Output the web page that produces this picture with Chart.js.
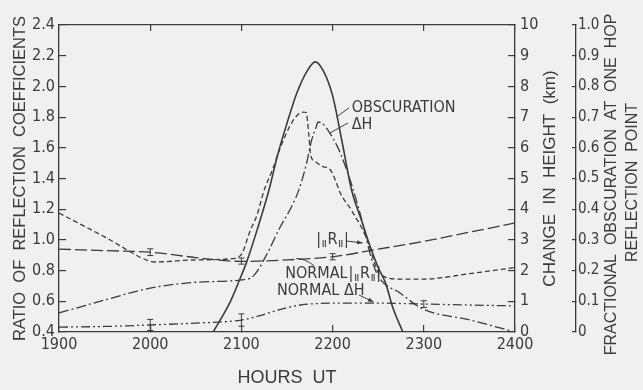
<!DOCTYPE html>
<html>
<head>
<meta charset="utf-8">
<script src="https://cdn.jsdelivr.net/npm/chart.js@4.4.1/dist/chart.umd.min.js"></script>
<style>
  html, body { margin: 0; padding: 0; background: #f0f0f0; }
  #wrap { width: 643px; height: 390px; position: relative; }
</style>
</head>
<body>
<div id="wrap"><canvas id="myChart"></canvas></div>
<script>
// time in hours UT (19 = 1900 ... 24 = 2400)
const obscTime = [20.69, 20.77, 20.88, 20.98, 21.06, 21.18, 21.30, 21.40, 21.50, 21.61, 21.72, 21.81, 21.90, 22.00, 22.11, 22.21, 22.31, 22.41, 22.50, 22.58, 22.66, 22.77];
const obscFrac = [0, 0.04, 0.10, 0.17, 0.23, 0.34, 0.46, 0.58, 0.68, 0.78, 0.85, 0.88, 0.85, 0.77, 0.61, 0.46, 0.37, 0.28, 0.21, 0.16, 0.08, 0];

// |R| ratio on eclipse day
const rTime = [19.0, 19.5, 20.0, 20.05, 20.5, 20.93, 21.01, 21.09, 21.17, 21.25, 21.34, 21.42, 21.53, 21.61, 21.68, 21.71, 21.74, 21.76, 21.81, 21.88, 21.97, 22.03, 22.08, 22.21, 22.38, 22.46, 22.51, 22.74, 23.0, 23.5, 24.0];
const rVal = [1.175, 1.02, 0.86, 0.856, 0.87, 0.88, 0.915, 1.05, 1.16, 1.325, 1.455, 1.59, 1.74, 1.81, 1.833, 1.83, 1.68, 1.55, 1.51, 1.48, 1.46, 1.39, 1.31, 1.19, 1.0, 0.85, 0.78, 0.745, 0.745, 0.78, 0.82];

// normal |R| ratio
const nrTime = [19, 19.5, 20, 20.5, 21, 21.5, 22, 22.5, 23, 23.5, 24];
const nrVal = [0.94, 0.93, 0.92, 0.885, 0.86, 0.87, 0.89, 0.94, 0.99, 1.05, 1.11];

// change in height, km
const dhTime = [19.0, 19.5, 20.0, 20.5, 21.0, 21.13, 21.27, 21.42, 21.56, 21.63, 21.71, 21.77, 21.82, 21.84, 21.88, 21.97, 22.08, 22.21, 22.32, 22.43, 22.50, 22.74, 22.99, 23.51, 24.0];
const dhKm = [0.62, 1.04, 1.43, 1.62, 1.70, 1.82, 2.48, 3.39, 4.14, 4.63, 5.44, 6.25, 6.68, 6.84, 6.81, 6.48, 5.86, 4.79, 3.65, 2.35, 1.82, 1.27, 0.75, 0.39, 0];

// normal change in height, km
const ndhTime = [19.0, 19.5, 20.0, 20.5, 21.0, 21.2, 21.43, 21.65, 21.87, 22.0, 22.5, 23.0, 23.5, 24.0];
const ndhKm = [0.16, 0.18, 0.23, 0.29, 0.39, 0.53, 0.74, 0.88, 0.93, 0.94, 0.94, 0.91, 0.88, 0.85];

// error bars: time, axis, low, high
const errTime = [20, 21, 22, 20, 21, 23];
const errAxis = ['y', 'y', 'y', 'y2', 'y2', 'y2'];
const errLow = [0.898, 0.842, 0.87, 0.05, 0.19, 0.80];
const errHigh = [0.942, 0.882, 0.91, 0.41, 0.59, 1.02];

// tick values
const hourTicks = [19, 20, 21, 22, 23, 24];
const ratioTicks = [0.4, 0.6, 0.8, 1.0, 1.2, 1.4, 1.6, 1.8, 2.0, 2.2, 2.4];
const kmTicks = [0, 1, 2, 3, 4, 5, 6, 7, 8, 9, 10];
const fracTicks = [0, 0.1, 0.2, 0.3, 0.4, 0.5, 0.6, 0.7, 0.8, 0.9, 1.0];

const ink = '#3b3b3b';
const NARROW = "'Liberation Sans Narrow', 'DejaVu Sans Condensed', sans-serif";
const SANS = "'Liberation Sans', Arial, sans-serif";

const pts = (ts, vs) => ts.map((t, i) => ({x: t, y: vs[i]}));
const setTicks = arr => s => { s.ticks = arr.map(v => ({value: v})); };

function drawRmag(ctx, x, y) {
  // |∥R∥| with small parallel marks
  ctx.font = '16px ' + NARROW;
  ctx.fillText('|', x, y); x += ctx.measureText('|').width + 1;
  ctx.font = 'bold 8px ' + SANS;
  ctx.fillText('||', x, y + 3); x += ctx.measureText('||').width + 1;
  ctx.font = '16px ' + NARROW;
  ctx.fillText('R', x, y); x += ctx.measureText('R').width + 1;
  ctx.font = 'bold 8px ' + SANS;
  ctx.fillText('||', x, y + 3); x += ctx.measureText('||').width + 1;
  ctx.font = '16px ' + NARROW;
  ctx.fillText('|', x, y);
}

function arrow(ctx, x1, y1, x2, y2) {
  ctx.beginPath(); ctx.moveTo(x1, y1); ctx.lineTo(x2, y2); ctx.stroke();
  const a = Math.atan2(y2 - y1, x2 - x1);
  ctx.beginPath();
  ctx.moveTo(x2, y2);
  ctx.lineTo(x2 - 6 * Math.cos(a - 0.35), y2 - 6 * Math.sin(a - 0.35));
  ctx.lineTo(x2 - 6 * Math.cos(a + 0.35), y2 - 6 * Math.sin(a + 0.35));
  ctx.closePath(); ctx.fill();
}

const notesPlugin = {
  id: 'notes',
  afterDatasetsDraw(chart) {
    const ctx = chart.ctx;
    const sx = chart.scales.x, sy = chart.scales.y;
    const P = (t, r) => [sx.getPixelForValue(t), sy.getPixelForValue(r)];
    ctx.save();
    ctx.strokeStyle = ink; ctx.fillStyle = ink; ctx.lineWidth = 1;

    // error bars
    errTime.forEach((t, i) => {
      const s = chart.scales[errAxis[i]];
      const x = sx.getPixelForValue(t);
      const y1 = s.getPixelForValue(errLow[i]), y2 = s.getPixelForValue(errHigh[i]);
      ctx.beginPath();
      ctx.moveTo(x, y1); ctx.lineTo(x, y2);
      ctx.moveTo(x - 3, y1); ctx.lineTo(x + 3, y1);
      ctx.moveTo(x - 3, y2); ctx.lineTo(x + 3, y2);
      ctx.stroke();
    });

    // leader lines
    let a = P(22.18, 1.86), b = P(22.04, 1.80);
    ctx.beginPath(); ctx.moveTo(a[0], a[1]); ctx.lineTo(b[0], b[1]); ctx.stroke();
    a = P(22.17, 1.762); b = P(21.97, 1.696);
    ctx.beginPath(); ctx.moveTo(a[0], a[1]); ctx.lineTo(b[0], b[1]); ctx.stroke();
    a = P(21.80, 0.83); const c = P(21.70, 0.879); b = P(21.60, 0.879);
    ctx.beginPath(); ctx.moveTo(a[0], a[1]); ctx.quadraticCurveTo(c[0], c[1], b[0], b[1]); ctx.stroke();
    a = P(22.15, 0.993); b = P(22.33, 0.98);
    arrow(ctx, a[0], a[1], b[0], b[1]);
    a = P(22.29, 0.641); b = P(22.45, 0.595);
    arrow(ctx, a[0], a[1], b[0], b[1]);

    // labels
    ctx.textBaseline = 'middle'; ctx.textAlign = 'left';
    ctx.font = '16px ' + NARROW;
    let p = P(22.21, 1.86); ctx.fillText('OBSCURATION', p[0], p[1]);
    p = P(22.21, 1.75); ctx.fillText('\u0394H', p[0], p[1]);
    p = P(21.39, 0.667); ctx.fillText('NORMAL \u0394H', p[0], p[1]);
    p = P(21.48, 0.778); ctx.fillText('NORMAL', p[0], p[1]);
    drawRmag(ctx, p[0] + ctx.measureText('NORMAL').width + 1, p[1]);
    p = P(21.82, 1.0); drawRmag(ctx, p[0], p[1]);

    // right-hand axis titles, reading bottom to top
    const y2 = chart.scales.y2, y3 = chart.scales.y3;
    const midY = (chart.chartArea.top + chart.chartArea.bottom) / 2;
    ctx.textAlign = 'center';
    const vtext = (txt, x, y) => {
      ctx.save(); ctx.translate(x, y); ctx.rotate(-Math.PI / 2);
      ctx.fillText(txt, 0, 0); ctx.restore();
    };
    ctx.font = '17px ' + SANS;
    vtext('CHANGE  IN  HEIGHT  (km)', y2.left + 35, midY);
    ctx.font = '16px ' + SANS;
    vtext('FRACTIONAL  OBSCURATION  AT  ONE  HOP', y3.left + 36, midY + 6);
    vtext('REFLECTION  POINT', y3.left + 57, midY + 4);
    ctx.restore();
  }
};

const tickFont = {family: NARROW, size: 16};
const gridIn = len => ({drawOnChartArea: false, tickLength: -len, color: ink, lineWidth: 1.2});
const border = {display: true, color: ink, width: 1.3};

const ctx = document.getElementById('myChart');

new Chart(ctx, {
  type: 'line',
  data: {
    datasets: [
      {label: 'Obscuration', data: pts(obscTime, obscFrac), yAxisID: 'y3', borderWidth: 1.6},
      {label: '|R|', data: pts(rTime, rVal), yAxisID: 'y', borderDash: [5, 3], borderWidth: 1.3},
      {label: 'Normal |R|', data: pts(nrTime, nrVal), yAxisID: 'y', borderDash: [12, 4], borderWidth: 1.3},
      {label: '\u0394H', data: pts(dhTime, dhKm), yAxisID: 'y2', borderDash: [10, 3, 2, 3], borderWidth: 1.3},
      {label: 'Normal \u0394H', data: pts(ndhTime, ndhKm), yAxisID: 'y2', borderDash: [9, 3, 2, 3, 2, 3], borderWidth: 1.3}
    ].map(d => Object.assign({xAxisID: 'x', borderColor: ink, pointRadius: 0, cubicInterpolationMode: 'monotone', fill: false}, d))
  },
  options: {
    responsive: true,
    maintainAspectRatio: false,
    animation: false,
    layout: {padding: 0},
    plugins: {legend: {display: false}, tooltip: {enabled: false}},
    scales: {
      x: {
        type: 'linear', position: 'bottom', min: 19, max: 24,
        afterBuildTicks: setTicks(hourTicks),
        ticks: {callback: v => String(Math.round(v * 100)), color: ink, font: tickFont, padding: 10, maxRotation: 0},
        grid: gridIn(7), border: border,
        title: {display: true, text: 'HOURS  UT', color: ink, font: {family: SANS, size: 18}, padding: {top: 0, bottom: 1}},
        afterFit: s => { s.height = 58; }
      },
      x2: {
        type: 'linear', position: 'top', min: 19, max: 24,
        afterBuildTicks: setTicks(hourTicks),
        ticks: {color: 'rgba(0,0,0,0)'},
        grid: gridIn(6), border: border,
        afterFit: s => { s.height = 25; }
      },
      y: {
        type: 'linear', position: 'left', min: 0.4, max: 2.4,
        afterBuildTicks: setTicks(ratioTicks),
        ticks: {callback: v => v.toFixed(1), color: ink, font: tickFont, padding: 11},
        grid: gridIn(7), border: border,
        title: {display: true, text: 'RATIO  OF  REFLECTION  COEFFICIENTS', color: ink, font: {family: SANS, size: 16.5}, padding: {top: 11, bottom: 0}},
        afterFit: s => { s.width = 59; }
      },
      y2: {
        type: 'linear', position: 'right', min: 0, max: 10, weight: 0,
        afterBuildTicks: setTicks(kmTicks),
        ticks: {callback: v => String(v), color: ink, font: tickFont, padding: 12},
        grid: gridIn(7), border: border,
        afterFit: s => { s.width = 61; }
      },
      y3: {
        type: 'linear', position: 'right', min: 0, max: 1, weight: 1,
        afterBuildTicks: setTicks(fracTicks),
        ticks: {callback: v => (v === 0 ? '0' : v.toFixed(1)), color: ink, font: {family: NARROW, size: 15}, padding: 6},
        grid: gridIn(4), border: border,
        afterFit: s => { s.width = 67; }
      }
    }
  },
  plugins: [notesPlugin]
});
</script>
</body>
</html>
